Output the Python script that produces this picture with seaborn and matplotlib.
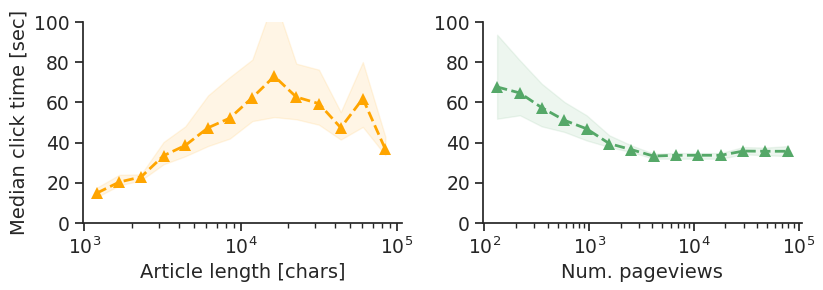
import numpy as np
import pandas as pd
import seaborn as sns
import matplotlib.pyplot as plt

# Left panel: click time vs article length
length_x = [1200, 1672, 2300, 3206, 4415, 6180, 8510, 11860, 16400, 22660, 31620, 43650, 60400, 84300]
length_med = [14.9, 20.4, 22.9, 33.5, 38.6, 47.4, 52.2, 62.4, 73.0, 62.7, 59.4, 47.4, 61.9, 36.6]
length_lo = [12.9, 18.7, 21.2, 29.2, 33.2, 38.3, 42.0, 50.7, 52.7, 51.6, 48.9, 41.5, 47.8, 33.7]
length_hi = [17.6, 24.0, 24.2, 40.3, 48.1, 63.5, 72.6, 81.3, 112.0, 79.3, 76.3, 55.2, 80.1, 42.8]

# Right panel: click time vs pageviews
views_x = [132, 218, 352, 581, 944, 1560, 2535, 4120, 6800, 11060, 18100, 29640, 48200, 80170]
views_med = [67.7, 64.7, 57.4, 51.1, 46.9, 39.5, 36.5, 33.3, 33.7, 33.7, 33.7, 35.8, 35.7, 35.7]
views_lo = [51.9, 53.6, 48.1, 45.3, 41.1, 37.8, 35.3, 32.0, 32.0, 32.0, 32.0, 34.2, 33.7, 33.3]
views_hi = [93.7, 80.9, 69.3, 60.2, 53.6, 43.6, 38.6, 34.5, 34.8, 34.8, 34.8, 37.8, 37.5, 38.3]

sns.set_theme(style="ticks")
plt.rcParams['font.family'] = ['DejaVu Sans']

fig = plt.figure(figsize=(8.23, 2.9), dpi=100)
ax1 = fig.add_axes([0.101, 0.231, 0.387, 0.693])
ax2 = fig.add_axes([0.587, 0.231, 0.387, 0.693])

panels = [
    (ax1, length_x, length_med, length_lo, length_hi, "orange", "Article length [chars]", (0.98e3, 1.07e5)),
    (ax2, views_x, views_med, views_lo, views_hi, "#55a868", "Num. pageviews", (0.97e2, 1.07e5)),
]

for ax, x, med, lo, hi, color, xlabel, xlim in panels:
    df = pd.DataFrame({"x": x, "med": med})
    ax.fill_between(x, lo, hi, color=color, alpha=0.1, lw=1)
    sns.lineplot(data=df, x="x", y="med", ax=ax, color=color, lw=2,
                 linestyle="--", marker="^", markersize=9, markeredgewidth=0)
    ax.set_xscale("log")
    ax.set_xlim(*xlim)
    ax.set_ylim(0, 100)
    ax.set_yticks([0, 20, 40, 60, 80, 100])
    ax.set_xlabel(xlabel, fontsize=14)
    ax.tick_params(axis="both", which="major", labelsize=13.5, length=6, width=1.25)
    ax.tick_params(axis="x", which="minor", length=3.5, width=1)
    for s in ["left", "bottom"]:
        ax.spines[s].set_linewidth(1.25)

ax1.set_ylabel("Median click time [sec]", fontsize=14)
ax2.set_ylabel("")
sns.despine(fig=fig)

fig.savefig("out.png", dpi=100)
